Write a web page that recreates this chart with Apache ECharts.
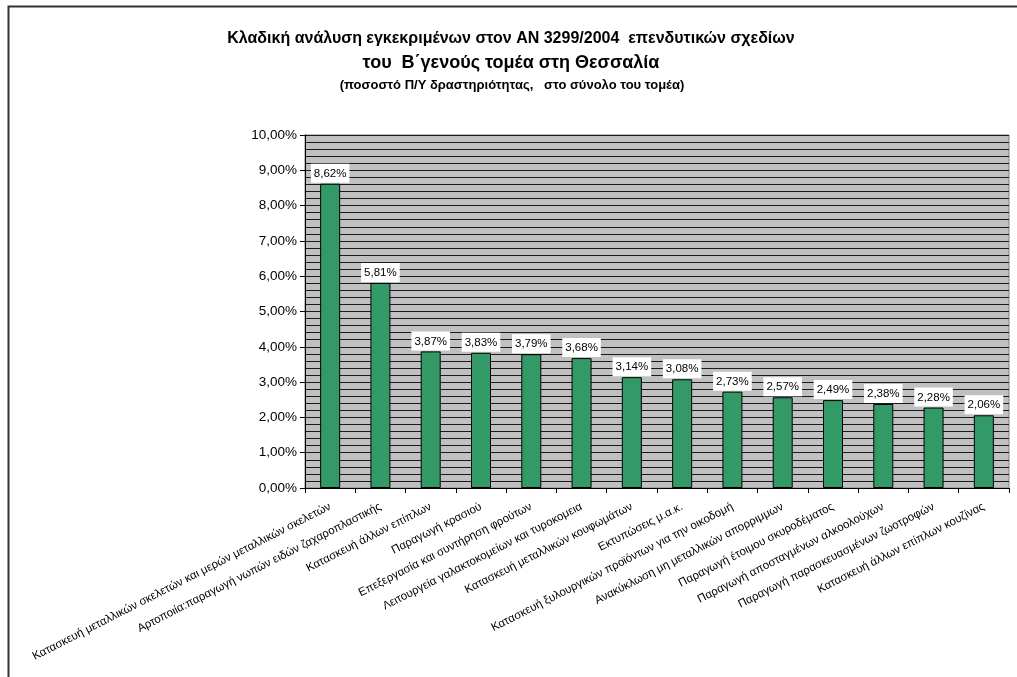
<!DOCTYPE html>
<html>
<head>
<meta charset="utf-8">
<script src="https://cdn.jsdelivr.net/npm/echarts@6/dist/echarts.min.js"></script>
<style>
html,body{margin:0;padding:0;background:#fff;}
#chart{width:1017px;height:677px;}
</style>
</head>
<body>
<div id="chart"></div>
<script>
const titleLine1 = "Κλαδική ανάλυση εγκεκριμένων στον ΑΝ 3299/2004  επενδυτικών σχεδίων";
const titleLine2 = "του  Β΄γενούς τομέα στη Θεσσαλία";
const subtitle = "(ποσοστό Π/Υ δραστηριότητας,   στο σύνολο του τομέα)";

const categories = [
  "Κατασκευή μεταλλικών σκελετών και μερών μεταλλικών σκελετών",
  "Αρτοποιία:παραγωγή νωπών ειδών ζαχαροπλαστικής",
  "Κατασκευή άλλων επίπλων",
  "Παραγωγή κρασιού",
  "Επεξεργασία και συντήρηση φρούτων",
  "Λειτουργεία γαλακτοκομείων και τυροκομεια",
  "Κατασκευή μεταλλικών κουφωμάτων",
  "Εκτυπώσεις μ.α.κ.",
  "Κατασκευή ξυλουργικών προϊόντων για την οικοδομή",
  "Ανακύκλωση μη μεταλλικών απορριμμων",
  "Παραγωγή έτοιμου σκυροδέματος",
  "Παραγωγή αποσταγμένων αλκοολούχων",
  "Παραγωγή παρασκευασμένων ζωοτροφών",
  "Κατασκευή άλλων επίπλων κουζίνας"
];
const values = [8.62, 5.81, 3.87, 3.83, 3.79, 3.68, 3.14, 3.08, 2.73, 2.57, 2.49, 2.38, 2.28, 2.06];

const yMin = 0, yMax = 10, yInterval = 1;

const fmt = v => v.toFixed(2).replace('.', ',') + '%';
const FONT = 'Arial, "Liberation Sans", sans-serif';

const chart = echarts.init(document.getElementById('chart'), null, {renderer: 'canvas'});
chart.setOption({
  backgroundColor: '#ffffff',
  animation: false,
  textStyle: {fontFamily: FONT},
  graphic: [{
    type: 'rect',
    shape: {x: 8.5, y: 6.5, width: 1100, height: 800},
    style: {fill: 'none', stroke: '#333', lineWidth: 2},
    silent: true, z: -1
  }, {
    type: 'text', x: 511, y: 39,
    style: {text: titleLine1, font: 'bold 16px ' + FONT, fill: '#000', align: 'center', verticalAlign: 'middle'}
  }, {
    type: 'text', x: 511, y: 63,
    style: {text: titleLine2, font: 'bold 18px ' + FONT, fill: '#000', align: 'center', verticalAlign: 'middle'}
  }, {
    type: 'text', x: 512, y: 85,
    style: {text: subtitle, font: 'bold 13px ' + FONT, fill: '#000', align: 'center', verticalAlign: 'middle'}
  }],
  grid: {
    left: 305, right: 8, top: 135, bottom: 189,
    show: true, backgroundColor: '#c0c0c0', borderColor: '#808080', borderWidth: 1
  },
  xAxis: {
    type: 'category',
    data: categories,
    boundaryGap: true,
    axisLine: {show: true, lineStyle: {color: '#000', width: 1}},
    axisTick: {show: true, alignWithLabel: false, length: 5, lineStyle: {color: '#000'}},
    axisLabel: {
      interval: 0, rotate: 27, fontSize: 11.5, color: '#000', fontFamily: FONT, margin: 18
    },
    splitLine: {show: false}
  },
  yAxis: {
    type: 'value',
    min: yMin, max: yMax, interval: yInterval,
    axisLine: {show: true, lineStyle: {color: '#000', width: 1}},
    axisTick: {show: true, length: 5, lineStyle: {color: '#000'}},
    axisLabel: {formatter: v => fmt(v), fontSize: 13.5, color: '#000', fontFamily: FONT, margin: 8},
    splitLine: {show: true, lineStyle: {color: '#1a1a1a', width: 1}},
    minorTick: {show: false, splitNumber: 5},
    minorSplitLine: {show: true, lineStyle: {color: '#1a1a1a', width: 1}}
  },
  series: [{
    type: 'bar',
    data: values,
    barWidth: 20,
    itemStyle: {color: '#339966', borderColor: '#000', borderWidth: 1},
    label: {
      show: true, position: 'top', distance: 1,
      formatter: p => fmt(p.value),
      fontSize: 11.5, color: '#000', fontFamily: FONT,
      backgroundColor: '#fff', padding: [4, 3, 3, 3]
    }
  }]
});
</script>
</body>
</html>
